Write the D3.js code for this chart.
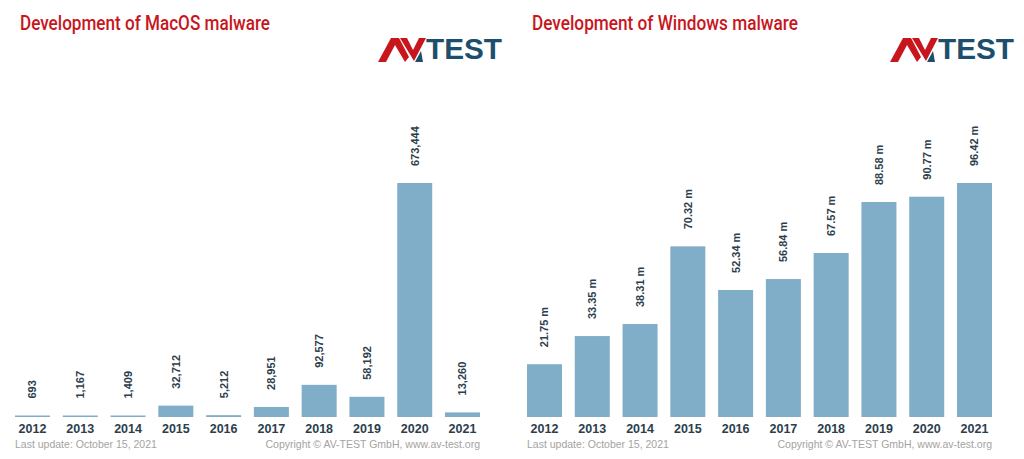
<!DOCTYPE html>
<html><head><meta charset="utf-8">
<script src="https://cdn.jsdelivr.net/npm/d3@7"></script>
<style>html,body{margin:0;padding:0;background:#fff;}svg{display:block;}</style>
</head><body>
<svg id="c" width="1024" height="459"></svg>
<script>
const years = ["2012","2013","2014","2015","2016","2017","2018","2019","2020","2021"];
const macValues = [693, 1167, 1409, 32712, 5212, 28951, 92577, 58192, 673444, 13260];
const winValues = [21.75, 33.35, 38.31, 70.32, 52.34, 56.84, 67.57, 88.58, 90.77, 96.42];
const titles = ["Development of MacOS malware", "Development of Windows malware"];
const footLeft = "Last update: October 15, 2021";
const footRight = "Copyright © AV-TEST GmbH, www.av-test.org";

const svg = d3.select("#c");
const BAR = "#80adc7", INK = "#2c3e4c", RED = "#c8161d", LOGOBLUE = "#1d4f6d";

function panel(ox, values, fmt, title, titleLen) {
  const g = svg.append("g").attr("transform", `translate(${ox},0)`);
  const x = d3.scaleBand().domain(years).range([8.6, 486.4]).paddingInner(0.2675).paddingOuter(0.134);
  const y = d3.scaleLinear().domain([0, d3.max(values)]).range([417, 183]);
  const data = years.map((yr, i) => ({yr, v: values[i]}));

  g.append("text").attr("x", 20).attr("y", 30)
    .attr("font-family", "Roboto,'Open Sans',sans-serif")
    .attr("font-weight", 500)
    .attr("font-size", 21).attr("fill", RED)
    .attr("textLength", titleLen).attr("lengthAdjust", "spacingAndGlyphs")
    .text(title);

  // logo
  const lg = g.append("g").attr("transform", "translate(378,37)");
  lg.append("path").attr("fill", RED)
    .attr("d", "M0,25 L13,1 L21,1 L31,20 L27,25 L17,8 L8,25 Z");
  lg.append("path").attr("fill", RED)
    .attr("d", "M22,1 L29,1 L35,13 L41,1 L48,1 L36,24 Z");
  lg.append("path").attr("fill", LOGOBLUE)
    .attr("d", "M37,25 L43,14 L45,25 Z");
  lg.append("text").attr("x", 48).attr("y", 22)
    .attr("font-family", "'Liberation Sans Narrow','Liberation Sans',sans-serif")
    .attr("font-weight", "bold").attr("font-size", 30).attr("fill", LOGOBLUE)
    .attr("textLength", 76).attr("lengthAdjust", "spacingAndGlyphs")
    .text("TEST");

  g.selectAll("rect.bar").data(data).join("rect").attr("class", "bar")
    .attr("x", d => x(d.yr)).attr("width", x.bandwidth())
    .attr("y", d => Math.min(y(d.v), y(0) - 1.5))
    .attr("height", d => Math.max(1.5, y(0) - y(d.v)))
    .attr("fill", BAR);

  g.selectAll("text.val").data(data).join("text").attr("class", "val")
    .attr("transform", d => `translate(${x(d.yr) + x.bandwidth() / 2},${Math.min(y(d.v), y(0) - 1.5) - 17}) rotate(-90)`)
    .attr("dy", "0.36em")
    .attr("font-family", "'Liberation Sans',Arial,sans-serif")
    .attr("font-weight", "bold").attr("font-size", 11).attr("fill", INK)
    .text(d => fmt(d.v));

  const ax = g.append("g").attr("transform", "translate(0,417)")
    .call(d3.axisBottom(x).tickSize(0).tickPadding(7));
  ax.select(".domain").remove();
  ax.selectAll("text").attr("font-family", "'Liberation Sans',Arial,sans-serif")
    .attr("font-weight", "bold").attr("font-size", 12.5).attr("fill", INK);

  g.append("text").attr("x", 15).attr("y", 448)
    .attr("font-family", "'Liberation Sans',Arial,sans-serif")
    .attr("font-size", 10.5).attr("fill", "#a3a3a3").text(footLeft);
  g.append("text").attr("x", 480).attr("y", 448).attr("text-anchor", "end")
    .attr("font-family", "'Liberation Sans',Arial,sans-serif")
    .attr("font-size", 10.5).attr("fill", "#a3a3a3").text(footRight);
}

panel(0, macValues, d3.format(","), titles[0], 250);
panel(512, winValues, v => d3.format(".2f")(v) + " m", titles[1], 266);
</script>
</body></html>
